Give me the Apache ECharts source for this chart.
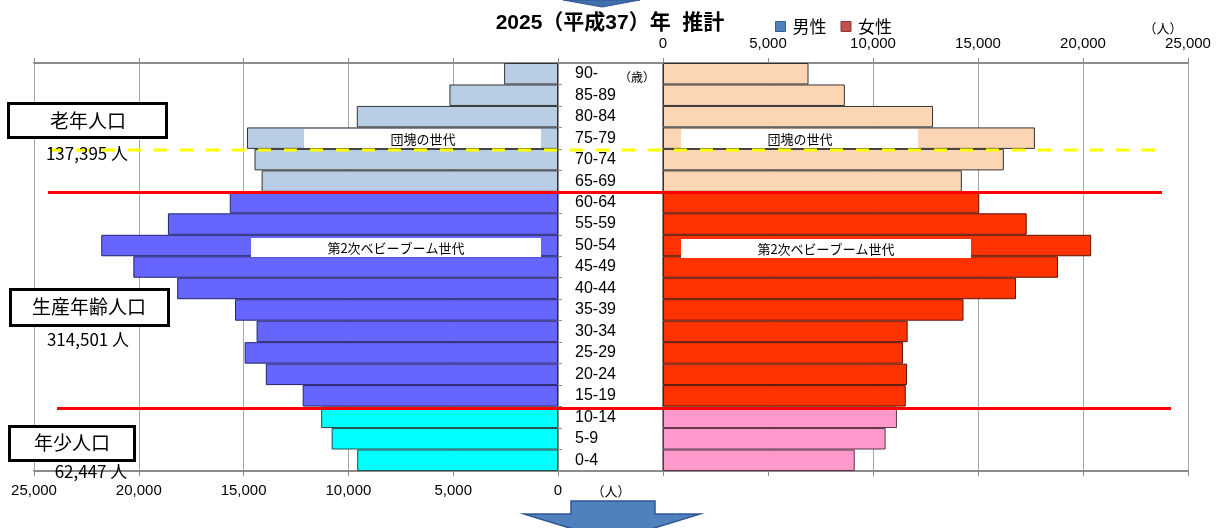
<!DOCTYPE html>
<html>
<head>
<meta charset="utf-8">
<script src="https://cdn.jsdelivr.net/npm/echarts@6/dist/echarts.min.js"></script>
<style>
html,body{margin:0;padding:0;background:#fff;}
#chart{width:1220px;height:528px;}
</style>
</head>
<body>
<div id="chart"></div>
<script>
// ---- data (bottom to top) ----
const categories = ['0-4','5-9','10-14','15-19','20-24','25-29','30-34','35-39','40-44','45-49','50-54','55-59','60-64','65-69','70-74','75-79','80-84','85-89','90-'];
const maleValues = [9580,10800,11300,12180,13940,14950,14380,15410,18170,20260,21790,18610,15660,14140,14480,14840,9600,5180,2570];
const femaleValues = [9130,10600,11140,11560,11620,11430,11650,14310,16810,18810,20390,17320,15060,14230,16230,17710,12860,8660,6930];
const axisTicks = [0,5000,10000,15000,20000,25000];
const seriesNames = ['男性','女性'];
const titleText = '2025（平成37）年  推計';
const groupLabels = ['老年人口','生産年齢人口','年少人口'];
const groupTotals = ['137,395 人','314,501 人','62,447 人'];
const generationLabels = ['団塊の世代','第2次ベビーブーム世代'];

function groupOf(i){ return i < 3 ? 'young' : (i < 13 ? 'working' : 'old'); }
const maleColors = {young:'#00FFFF', working:'#6666FF', old:'#B9CDE5'};
const maleBorders = {young:'#1f4f4f', working:'#22226e', old:'#333333'};
const femaleColors = {young:'#FF99CC', working:'#FF3300', old:'#FCD5B5'};
const femaleBorders = {young:'#5e3348', working:'#5a1200', old:'#333333'};

const numFont = "'Liberation Sans',sans-serif";
const jpFont = "'Noto Sans CJK JP',sans-serif";
const fmt = v => v.toLocaleString('en-US');

const maleData = maleValues.map((v,i)=>({value:v, itemStyle:{color:maleColors[groupOf(i)], borderColor:maleBorders[groupOf(i)]}}));
const femaleData = femaleValues.map((v,i)=>({value:v, itemStyle:{color:femaleColors[groupOf(i)], borderColor:femaleBorders[groupOf(i)]}}));

const gridLine = {show:true, lineStyle:{color:'#A6A6A6', width:1}};
const axLine = {show:true, lineStyle:{color:'#8C8C8C', width:2}};
const labelStyle = {fontFamily:numFont, fontSize:15, color:'#000'};

function valueAxis(grid, pos, inverse, showLabel, split){
  return {
    type:'value', gridIndex:grid, position:pos, inverse:inverse,
    min:axisTicks[0], max:axisTicks[axisTicks.length-1], interval:axisTicks[1]-axisTicks[0],
    axisLine:axLine, axisTick:{show:true, length:5, lineStyle:{color:'#8C8C8C'}},
    splitLine: split ? gridLine : {show:false},
    axisLabel:{show:showLabel, margin:12, formatter:fmt, showMinLabel:true, showMaxLabel:true, ...labelStyle}
  };
}

const chart = echarts.init(document.getElementById('chart'), null, {renderer:'canvas'});

function txt(x,y,text,size,opts){
  return Object.assign({type:'text', x:x, y:y, z:60, style:{text:text, fontSize:size, fontFamily:jpFont, fill:'#000', align:'center', verticalAlign:'middle'}}, opts||{});
}
function box(x,y,w,h,lw){
  return {type:'rect', z:55, shape:{x:x,y:y,width:w,height:h}, style:{fill:'#fff', stroke:lw?'#000':null, lineWidth:lw||0}};
}
function hline(x1,x2,y,color,width,dash){
  return {type:'line', z:58, shape:{x1:x1,y1:y,x2:x2,y2:y}, style:{stroke:color, lineWidth:width, lineDash:dash||null}};
}

const option = {
  animation:false,
  backgroundColor:'#fff',
  title:{text:titleText, left:'center', top:13, padding:0, textStyle:{fontFamily:"'Liberation Sans','Noto Sans CJK JP',sans-serif", fontWeight:'bold', fontSize:21, color:'#000'}},
  legend:{
    data:[{name:seriesNames[0], itemStyle:{color:'#4F81BD', borderColor:'#385D8A', borderWidth:1}},
          {name:seriesNames[1], itemStyle:{color:'#C0504D', borderColor:'#8C3836', borderWidth:1}}],
    left:770, top:13, icon:'rect', itemWidth:10, itemHeight:10, itemGap:14, selectedMode:false,
    textStyle:{fontFamily:jpFont, fontSize:17, color:'#000', padding:[0,0,0,2]}
  },
  grid:[
    {left:34, top:63, width:524, height:408},
    {left:663, top:63, width:525, height:408}
  ],
  xAxis:[
    valueAxis(0,'bottom',true,true,true),
    valueAxis(0,'top',true,false,false),
    valueAxis(1,'top',false,true,true),
    valueAxis(1,'bottom',false,false,false)
  ],
  yAxis:[
    {type:'category', gridIndex:0, position:'right', data:categories,
     axisLine:axLine, axisTick:{show:true, length:4, lineStyle:{color:'#8C8C8C'}},
     axisLabel:{show:true, interval:0, align:'left', margin:17, fontFamily:numFont, fontSize:16, color:'#000'}},
    {type:'category', gridIndex:1, position:'left', data:categories,
     axisLine:axLine, axisTick:{show:false}, axisLabel:{show:false}}
  ],
  series:[
    {name:seriesNames[0], type:'bar', xAxisIndex:0, yAxisIndex:0, data:maleData, barCategoryGap:'0%',
     itemStyle:{color:'#4F81BD', borderColor:'#333', borderWidth:1}},
    {name:seriesNames[1], type:'bar', xAxisIndex:2, yAxisIndex:1, data:femaleData, barCategoryGap:'0%',
     itemStyle:{color:'#C0504D', borderColor:'#333', borderWidth:1}}
  ],
  graphic:{elements:[
    // frame connecting the two panels through the label column
    hline(558,663,63,'#8C8C8C',2),
    hline(558,663,471,'#8C8C8C',2),
    // generation boxes
    box(304,129,237,19), txt(423,139,generationLabels[0],13),
    box(681,129,237,19), txt(800,139,generationLabels[0],13),
    box(251,238,290,19), txt(396,248,generationLabels[1],13),
    box(681,239,290,19), txt(826,249,generationLabels[1],13),
    // population group lines
    hline(50,1166,150,'#FFFF00',3,[13,13]),
    hline(48,1162,192.5,'#FF0000',3),
    hline(57,1171,408.5,'#FF0000',3),
    // group boxes
    box(8.5,103.5,158,34,3), txt(88,120.5,groupLabels[0],19),
    txt(87,154,groupTotals[0],17),
    box(10.5,289.5,158,36,3), txt(89,307,groupLabels[1],19),
    txt(88,340,groupTotals[1],17),
    box(9.5,426.5,125,34,3), txt(72,443,groupLabels[2],19),
    txt(91,472,groupTotals[2],17),
    // unit labels
    txt(637,77,'（歳）',12),
    txt(1163,28,'（人）',13),
    txt(611,491,'（人）',13),
    // arrows
    {type:'polygon', z:40, shape:{points:[[563,0],[640,0],[602,7]]}, style:{fill:'#4270AD', stroke:'#2F5597', lineWidth:1}},
    {type:'polygon', z:40, shape:{points:[[571,501],[655,501],[655,514],[700,514],[612,541],[524,514],[571,514]]}, style:{fill:'#4F81BD', stroke:'#2F5597', lineWidth:1.5}}
  ]}
};
chart.setOption(option);
</script>
</body>
</html>
